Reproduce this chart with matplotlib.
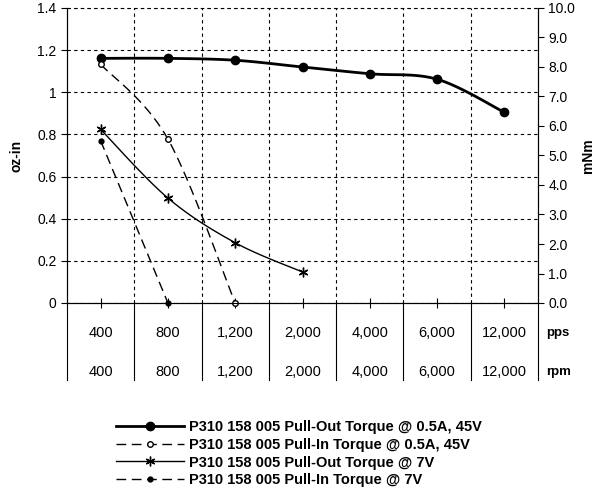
import numpy as np
import matplotlib.pyplot as plt
from matplotlib.transforms import blended_transform_factory

plt.rcParams['font.family'] = ['Liberation Sans', 'DejaVu Sans']

# speeds (categories)
pps = ['400', '800', '1,200', '2,000', '4,000', '6,000', '12,000']
rpm = ['400', '800', '1,200', '2,000', '4,000', '6,000', '12,000']

# torque in oz-in
pullout_45v = [1.161, 1.161, 1.152, 1.120, 1.088, 1.062, 0.905]
pullin_45v = [1.133, 0.778, 0.0]
pullout_7v = [0.824, 0.498, 0.286, 0.147]
pullin_7v = [0.770, 0.0]

labels = ['P310 158 005 Pull-Out Torque @ 0.5A, 45V',
          'P310 158 005 Pull-In Torque @ 0.5A, 45V',
          'P310 158 005 Pull-Out Torque @ 7V',
          'P310 158 005 Pull-In Torque @ 7V']


def smooth(y, n=20):
    # excel style smoothed line (bezier through the points)
    x = np.arange(len(y), dtype=float)
    y = np.asarray(y, dtype=float)
    if len(y) < 3:
        return x, y
    px = np.concatenate([[x[0]], x, [x[-1]]])
    py = np.concatenate([[y[0]], y, [y[-1]]])
    xs, ys = [], []
    for i in range(len(y) - 1):
        p0 = np.array([px[i], py[i]])
        p1 = np.array([px[i + 1], py[i + 1]])
        p2 = np.array([px[i + 2], py[i + 2]])
        p3 = np.array([px[i + 3], py[i + 3]])
        c1 = p1 + (p2 - p0) / 6
        c2 = p2 - (p3 - p1) / 6
        t = np.linspace(0, 1, n)[:, None]
        b = (1 - t)**3 * p1 + 3 * (1 - t)**2 * t * c1 + 3 * (1 - t) * t**2 * c2 + t**3 * p2
        xs.extend(b[:, 0]); ys.extend(b[:, 1])
    return np.array(xs), np.array(ys)


fig = plt.figure(figsize=(5.97, 4.94), dpi=100)
ax = fig.add_axes([67 / 597, 1 - 303 / 494, 471 / 597, 295 / 494])

series = [
    (pullout_45v, dict(color='black', lw=2.0, ls='-'), dict(marker='o', ms=6, mfc='black', mec='black')),
    (pullin_45v, dict(color='black', lw=1.0, ls=(0, (7, 4))), dict(marker='o', ms=4, mfc='white', mec='black', mew=1)),
    (pullout_7v, dict(color='black', lw=1.0, ls='-'), dict(marker=(6, 2, 0), ms=7, mec='black', mew=1)),
    (pullin_7v, dict(color='black', lw=1.0, ls=(0, (7, 4))), dict(marker='o', ms=3.5, mfc='black', mec='black')),
]
handles = []
for (vals, lstyle, mstyle), lab in zip(series, labels):
    sx, sy = smooth(vals)
    ax.plot(sx, sy, clip_on=False, zorder=3, **lstyle)
    ax.plot(np.arange(len(vals)), vals, ls='none', clip_on=False, zorder=4, **mstyle)
    h, = ax.plot([], [], label=lab, **lstyle, **mstyle)
    handles.append(h)

ax.set_xlim(-0.5, 6.5)
ax.set_ylim(0, 1.4)
ax.set_yticks(np.arange(0, 1.41, 0.2))
ax.set_yticklabels(['0', '0.2', '0.4', '0.6', '0.8', '1', '1.2', '1.4'])
ax.set_xticks(range(7))
ax.set_xticklabels([])
ax.tick_params(axis='x', direction='inout', length=7, width=0.8)
ax.tick_params(axis='y', direction='out', length=4, width=0.8, labelsize=10)
ax.set_xticks(np.arange(0.5, 6.5, 1), minor=True)
ax.tick_params(axis='x', which='minor', length=0)
ax.grid(True, which='major', axis='y', ls=(0, (3, 3)), color='black', lw=0.8)
ax.grid(True, which='minor', axis='x', ls=(0, (3, 3)), color='black', lw=0.8)
ax.spines['top'].set_visible(False)
ax.axhline(1.4, color='black', ls=(0, (3, 3)), lw=0.8, clip_on=False)
ax.set_ylabel('oz-in', fontweight='bold', fontsize=10, labelpad=10)

ax2 = ax.twinx()
ax2.set_ylim(0, 10)
ax2.set_yticks(np.arange(0, 10.1, 1.0))
ax2.set_yticklabels(['%.1f' % v for v in np.arange(0, 10.1, 1.0)])
ax2.tick_params(axis='y', direction='out', length=4, width=0.8, labelsize=10)
ax2.spines['top'].set_visible(False)
ax2.set_ylabel('mNm', fontweight='bold', fontsize=10, labelpad=4)

# table below the chart
tr = blended_transform_factory(ax.transData, ax.transAxes)
for b in np.arange(-0.5, 7.0, 1.0):
    ax.plot([b, b], [0, -0.262], transform=tr, color='black', lw=0.8, clip_on=False)
for i in range(7):
    ax.text(i, -0.102, pps[i], transform=tr, ha='center', va='center', fontsize=10.5)
    ax.text(i, -0.234, rpm[i], transform=tr, ha='center', va='center', fontsize=10.5)
ax.text(6.62, -0.102, 'pps', transform=tr, ha='left', va='center', fontsize=9.5, fontweight='bold')
ax.text(6.62, -0.234, 'rpm', transform=tr, ha='left', va='center', fontsize=9.5, fontweight='bold')

fig.legend(handles=handles, loc='upper center', bbox_to_anchor=(0.5, 1 - 410 / 494),
           frameon=False, prop=dict(weight='bold', size=10.5), handlelength=4.7,
           handletextpad=0.3, labelspacing=0.25, borderpad=0.2)

fig.savefig('out.png', dpi=100)
